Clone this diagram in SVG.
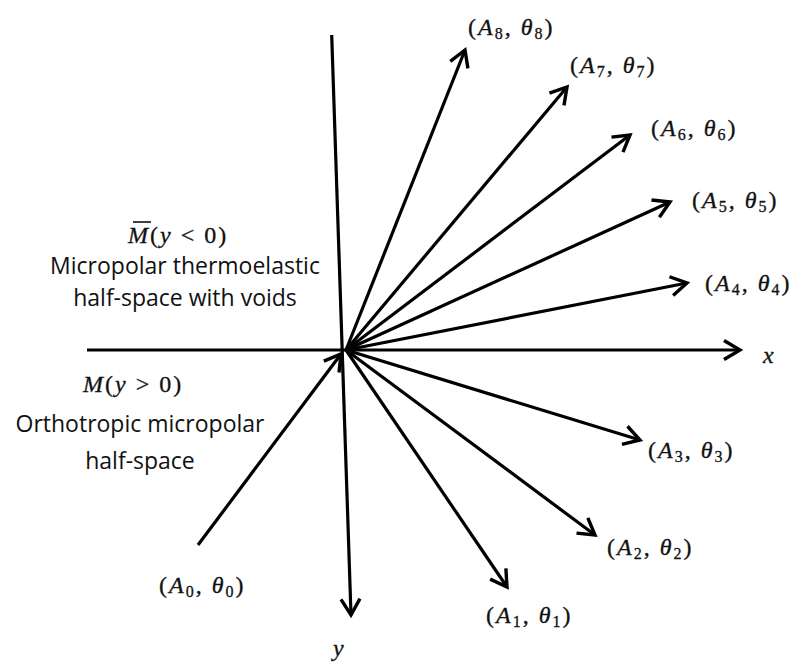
<svg xmlns="http://www.w3.org/2000/svg" width="793" height="663" viewBox="0 0 793 663">
<defs>
<marker id="arr" markerUnits="userSpaceOnUse" markerWidth="40" markerHeight="40" refX="0" refY="0" viewBox="-20 -20 40 40" orient="auto" overflow="visible">
<path d="M -16 -9.5 L 0 0 L -16 9.5" fill="none" stroke="#000" stroke-width="3.4" stroke-linejoin="miter" stroke-linecap="butt"/>
</marker>
<style>
.ln{stroke:#000;stroke-width:3.2;fill:none;marker-end:url(#arr)}
.m{font-family:"Liberation Serif",serif;font-size:24px;fill:#111;letter-spacing:2px;stroke:#111;stroke-width:0.3px}
.i{font-style:italic}
.s{font-size:16px}
.t{font-family:"Open Sans","Liberation Sans",sans-serif;font-size:23px;fill:#111;text-anchor:middle}
</style>
</defs>
<rect width="793" height="663" fill="#fff"/>
<g id="connectors">
<line class="ln" x1="87" y1="350" x2="740" y2="350"/>
<line class="ln" x1="331.7" y1="35" x2="351" y2="615"/>
<line class="ln" x1="198" y1="545" x2="341" y2="354"/>
<line class="ln" x1="346" y1="350" x2="465" y2="50"/>
<line class="ln" x1="346" y1="350" x2="567" y2="87"/>
<line class="ln" x1="346" y1="350" x2="630" y2="135"/>
<line class="ln" x1="346" y1="350" x2="670" y2="202"/>
<line class="ln" x1="346" y1="350" x2="687" y2="283"/>
<line class="ln" x1="346" y1="350" x2="640" y2="440"/>
<line class="ln" x1="346" y1="350" x2="595" y2="535"/>
<line class="ln" x1="346" y1="350" x2="507" y2="587"/>
</g>
<g id="axis-labels">
<text class="m i" x="763" y="363">x</text>
<text class="m i" x="333" y="656">y</text>
</g>
<g id="regions">
<text class="m" x="128" y="243"><tspan class="i">M</tspan>(<tspan class="i">y</tspan> &lt; 0)</text>
<line x1="133" y1="222" x2="151" y2="222" stroke="#111" stroke-width="1.6"/>
<text class="t" x="185" y="274">Micropolar thermoelastic</text>
<text class="t" x="185" y="306">half-space with voids</text>
<text class="m" x="83" y="392"><tspan class="i">M</tspan>(<tspan class="i">y</tspan> &gt; 0)</text>
<text class="t" x="140" y="432">Orthotropic micropolar</text>
<text class="t" x="140" y="469">half-space</text>
</g>
<g id="n8"><text class="m" x="468" y="35">(<tspan class="i">A</tspan><tspan class="s" dy="4">8</tspan><tspan dy="-4">, </tspan><tspan class="i">θ</tspan><tspan class="s" dy="4">8</tspan><tspan dy="-4">)</tspan></text></g>
<g id="n7"><text class="m" x="570" y="73">(<tspan class="i">A</tspan><tspan class="s" dy="4">7</tspan><tspan dy="-4">, </tspan><tspan class="i">θ</tspan><tspan class="s" dy="4">7</tspan><tspan dy="-4">)</tspan></text></g>
<g id="n6"><text class="m" x="651" y="136">(<tspan class="i">A</tspan><tspan class="s" dy="4">6</tspan><tspan dy="-4">, </tspan><tspan class="i">θ</tspan><tspan class="s" dy="4">6</tspan><tspan dy="-4">)</tspan></text></g>
<g id="n5"><text class="m" x="692" y="208">(<tspan class="i">A</tspan><tspan class="s" dy="4">5</tspan><tspan dy="-4">, </tspan><tspan class="i">θ</tspan><tspan class="s" dy="4">5</tspan><tspan dy="-4">)</tspan></text></g>
<g id="n4"><text class="m" x="705" y="291">(<tspan class="i">A</tspan><tspan class="s" dy="4">4</tspan><tspan dy="-4">, </tspan><tspan class="i">θ</tspan><tspan class="s" dy="4">4</tspan><tspan dy="-4">)</tspan></text></g>
<g id="n3"><text class="m" x="648" y="458">(<tspan class="i">A</tspan><tspan class="s" dy="4">3</tspan><tspan dy="-4">, </tspan><tspan class="i">θ</tspan><tspan class="s" dy="4">3</tspan><tspan dy="-4">)</tspan></text></g>
<g id="n2"><text class="m" x="607" y="555">(<tspan class="i">A</tspan><tspan class="s" dy="4">2</tspan><tspan dy="-4">, </tspan><tspan class="i">θ</tspan><tspan class="s" dy="4">2</tspan><tspan dy="-4">)</tspan></text></g>
<g id="n1"><text class="m" x="486" y="623">(<tspan class="i">A</tspan><tspan class="s" dy="4">1</tspan><tspan dy="-4">, </tspan><tspan class="i">θ</tspan><tspan class="s" dy="4">1</tspan><tspan dy="-4">)</tspan></text></g>
<g id="n0"><text class="m" x="159" y="593">(<tspan class="i">A</tspan><tspan class="s" dy="4">0</tspan><tspan dy="-4">, </tspan><tspan class="i">θ</tspan><tspan class="s" dy="4">0</tspan><tspan dy="-4">)</tspan></text></g>
</svg>
